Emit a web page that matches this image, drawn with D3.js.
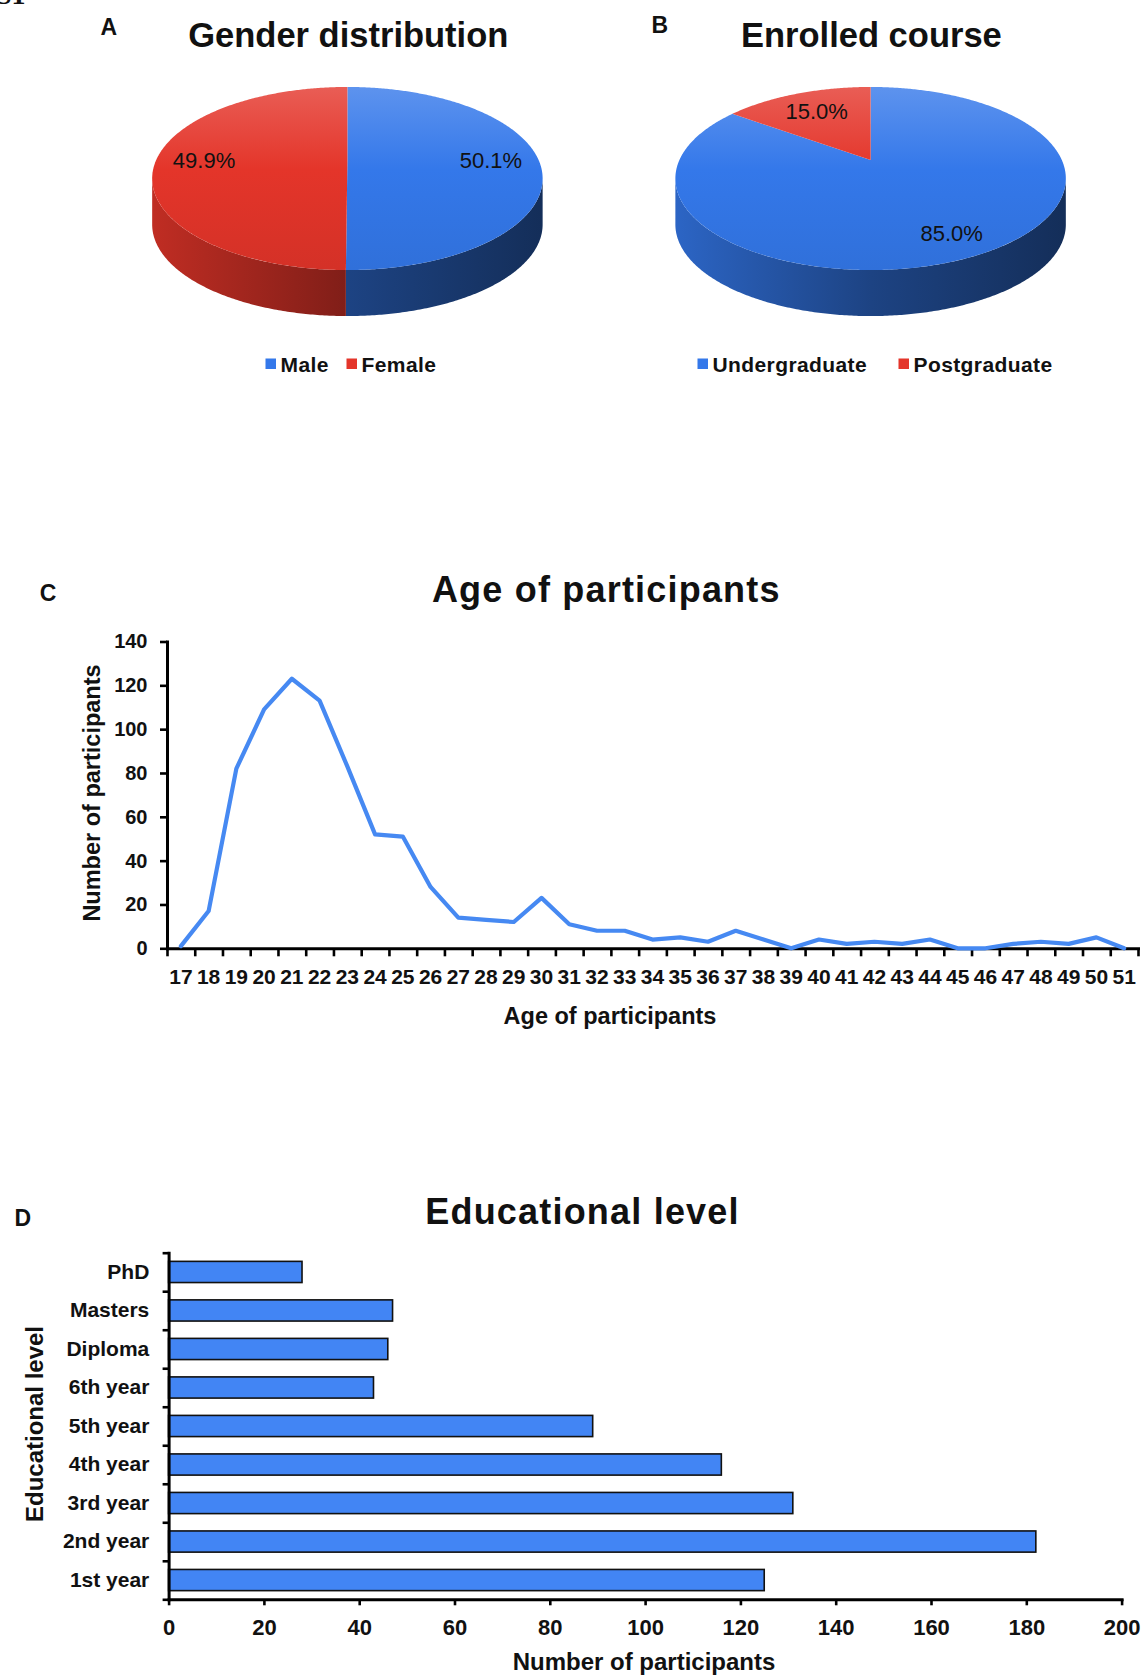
<!DOCTYPE html>
<html>
<head>
<meta charset="utf-8">
<script src="https://cdn.jsdelivr.net/npm/d3@7"></script>
<style>
  html, body { margin: 0; padding: 0; background: #ffffff; }
  svg { display: block; }
  text { font-family: "Liberation Sans", Arial, Helvetica, sans-serif; fill: #111111; }
</style>
</head>
<body>
<svg id="fig" width="1142" height="1676"></svg>
<script>
// ---- data ----
const genderLabels = ["Male", "Female"];
const genderShares = [50.1, 49.9];

const courseLabels = ["Undergraduate", "Postgraduate"];
const courseShares = [85.0, 15.0];

const ageCategories = [17, 18, 19, 20, 21, 22, 23, 24, 25, 26, 27, 28, 29, 30, 31, 32, 33, 34,
                       35, 36, 37, 38, 39, 40, 41, 42, 43, 44, 45, 46, 47, 48, 49, 50, 51];
const ageCounts = [1, 17, 82, 109, 123, 113, 83, 52, 51, 28, 14, 13, 12, 23, 11, 8, 8, 4,
                   5, 3, 8, 4, 0, 4, 2, 3, 2, 4, 0, 0, 2, 3, 2, 5, 0];
const ageTicks = [0, 20, 40, 60, 80, 100, 120, 140];

const eduLevels = ["1st year", "2nd year", "3rd year", "4th year", "5th year", "6th year",
                   "Diploma", "Masters", "PhD"];
const eduCounts = [125, 182, 131, 116, 89, 43, 46, 47, 28];
const eduTicks = [0, 20, 40, 60, 80, 100, 120, 140, 160, 180, 200];

const sliceColors = ["#3478ea", "#e4352a"];
const lineColor = "#4689f2";
const barColor = "#4285f4";

// ---- helpers ----
const svg = d3.select("#fig");
const defs = svg.append("defs");

function shade(c, k) {
  const r = d3.rgb(c);
  return d3.rgb(r.r * k, r.g * k, r.b * k).formatHex();
}
function tint(c, k) {
  return d3.interpolateRgb(c, "#ffffff")(k);
}

// 3-D pie seen in perspective: circle point (sin t, cos t) projected with foreshortening p
function drawPie3D(id, opts) {
  const { cx, y0, a, b, p, depth, values, colors, labelR } = opts;
  const g = svg.append("g");
  const arcs = d3.pie().sort(null).value(d => d)(values);
  const proj = (t, r, dy) => {
    const X = r * Math.sin(t), Zc = r * Math.cos(t);
    const w = 1 + p * Zc;
    return [cx + a * X / w, y0 - b * Zc / w + dy];
  };
  const sample = (t0, t1, dy) => {
    const n = Math.max(2, Math.ceil((t1 - t0) / 0.01));
    return d3.range(n + 1).map(i => proj(t0 + (t1 - t0) * i / n, 1, dy));
  };
  const line = d3.line();
  const tL = Math.acos(-p), tR = 2 * Math.PI - Math.acos(-p);
  const yTop = y0 - b / (1 + p), yBot = y0 + b / (1 - p);
  const wid = a / Math.sqrt(1 - p * p);

  colors.forEach((c, i) => {
    const sg = defs.append("linearGradient").attr("id", `${id}-side-${i}`)
      .attr("gradientUnits", "userSpaceOnUse")
      .attr("x1", cx - wid).attr("x2", cx + wid).attr("y1", 0).attr("y2", 0);
    sg.append("stop").attr("offset", 0).attr("stop-color", shade(c, 0.84));
    sg.append("stop").attr("offset", 0.5).attr("stop-color", shade(c, 0.56));
    sg.append("stop").attr("offset", 1).attr("stop-color", shade(c, 0.38));
    const tg = defs.append("linearGradient").attr("id", `${id}-top-${i}`)
      .attr("gradientUnits", "userSpaceOnUse")
      .attr("x1", 0).attr("x2", 0).attr("y1", yTop).attr("y2", yBot);
    tg.append("stop").attr("offset", 0).attr("stop-color", tint(c, 0.2));
    tg.append("stop").attr("offset", 0.45).attr("stop-color", c);
    tg.append("stop").attr("offset", 1).attr("stop-color", shade(c, 0.93));
  });

  // visible rim walls
  arcs.forEach((d, i) => {
    const s = Math.max(d.startAngle, tL), e = Math.min(d.endAngle, tR);
    if (e > s) {
      const top = sample(s, e, 0), bot = sample(s, e, depth).reverse();
      g.append("path").attr("d", line(top.concat(bot)) + "Z")
        .attr("fill", `url(#${id}-side-${i})`);
    }
  });
  // top faces
  arcs.forEach((d, i) => {
    const pts = [proj(0, 0, 0)].concat(sample(d.startAngle, d.endAngle, 0));
    g.append("path").attr("d", line(pts) + "Z")
      .attr("fill", `url(#${id}-top-${i})`);
  });
  // value labels
  arcs.forEach((d, i) => {
    const mid = (d.startAngle + d.endAngle) / 2;
    const [lx, ly] = proj(mid, labelR[i], 0);
    g.append("text").attr("x", lx).attr("y", ly).attr("dy", "0.36em")
      .attr("text-anchor", "middle").style("font-size", "22px")
      .text(d3.format(".1f")(d.data) + "%");
  });
}

function drawLegend(labels, colors, markerX, cy) {
  const g = svg.append("g");
  labels.forEach((lab, i) => {
    g.append("rect").attr("x", markerX[i]).attr("y", cy - 5.5).attr("width", 10.5).attr("height", 10.5)
      .attr("fill", colors[i]);
    g.append("text").attr("x", markerX[i] + 15).attr("y", cy + 8)
      .style("font-size", "21px").style("font-weight", "bold").style("letter-spacing", "0.4px")
      .text(lab);
  });
}

function panelLetter(t, x, y) {
  svg.append("text").attr("x", x).attr("y", y).attr("text-anchor", "middle")
    .style("font-size", "23px").style("font-weight", "bold").text(t);
}
function title(t, x, y, size, spacing) {
  svg.append("text").attr("x", x).attr("y", y).attr("text-anchor", "middle")
    .style("font-size", size + "px").style("font-weight", "bold")
    .style("letter-spacing", spacing + "px").text(t);
}

// figure number, partly above the top edge of the page
svg.append("text").attr("x", -4).attr("y", 4)
  .style("font-family", "'Liberation Serif', serif").style("font-size", "28px")
  .style("font-weight", "bold").text("S1");

// ---- A: gender ----
panelLetter("A", 108.7, 35);
title("Gender distribution", 348.3, 46.7, 34.5, 0);
drawPie3D("pieA", {
  cx: 347.4, y0: 160, a: 191.2, b: 87.8, p: 0.2022, depth: 46,
  values: genderShares, colors: sliceColors, labelR: [0.75, 0.75]
});
drawLegend(genderLabels, sliceColors, [265.5, 346.5], 364);

// ---- B: enrolled course ----
panelLetter("B", 659.7, 33.3);
title("Enrolled course", 871.4, 46.7, 34.5, 0);
drawPie3D("pieB", {
  cx: 870.6, y0: 160, a: 191.2, b: 87.8, p: 0.2022, depth: 46,
  values: courseShares, colors: sliceColors, labelR: [0.8, 0.7]
});
drawLegend(courseLabels, sliceColors, [697.5, 898.5], 364);

// ---- C: age line chart ----
panelLetter("C", 48, 601);
title("Age of participants", 606.3, 601.7, 36, 1.2);

const xAge = d3.scaleBand().domain(ageCategories).range([167, 1138]).padding(0);
const yAge = d3.scaleLinear().domain([0, 140]).range([948.3, 641.5]);
const ageEdges = d3.scaleLinear().domain([0, ageCategories.length]).range(xAge.range());

const gC = svg.append("g");
const yAxisC = gC.append("g").attr("transform", `translate(${xAge.range()[0]},0)`)
  .call(d3.axisLeft(yAge).tickValues(ageTicks).tickSize(7).tickSizeOuter(0).tickPadding(12.5));
const xEdgesC = gC.append("g").attr("transform", `translate(0,${yAge(0)})`)
  .call(d3.axisBottom(ageEdges).ticks(ageCategories.length).tickSize(8).tickSizeOuter(0).tickFormat(""));
const xLabelsC = gC.append("g").attr("transform", `translate(0,${yAge(0)})`)
  .call(d3.axisBottom(xAge).tickSize(0).tickPadding(20.3));
xLabelsC.select(".domain").remove();

[yAxisC, xEdgesC].forEach(ax => {
  ax.select(".domain").attr("stroke", "#000").attr("stroke-width", 3).attr("stroke-linecap", "square");
  ax.selectAll(".tick line").attr("stroke", "#000").attr("stroke-width", 2.6);
});
yAxisC.selectAll("text").style("font-size", "20px").style("font-weight", "bold")
  .style("font-family", "'Liberation Sans', Arial, sans-serif").attr("fill", "#111");
xLabelsC.selectAll("text").style("font-size", "21px").style("font-weight", "bold")
  .style("font-family", "'Liberation Sans', Arial, sans-serif").attr("fill", "#111");

gC.append("path")
  .datum(ageCategories.map((a, i) => ({ age: a, n: ageCounts[i] })))
  .attr("fill", "none").attr("stroke", lineColor).attr("stroke-width", 4.2)
  .attr("stroke-linejoin", "round").attr("stroke-linecap", "round")
  .attr("d", d3.line().x(d => xAge(d.age) + xAge.bandwidth() / 2).y(d => yAge(d.n)));

svg.append("text").attr("transform", "translate(100,793) rotate(-90)").attr("text-anchor", "middle")
  .style("font-size", "23.5px").style("font-weight", "bold").text("Number of participants");
svg.append("text").attr("x", 610).attr("y", 1023.5).attr("text-anchor", "middle")
  .style("font-size", "23.5px").style("font-weight", "bold").text("Age of participants");

// ---- D: educational level bar chart ----
panelLetter("D", 22.8, 1226);
title("Educational level", 582.5, 1224.3, 36, 1.2);

const xEdu = d3.scaleLinear().domain([0, 200]).range([168.6, 1121.6]);
const yEdu = d3.scaleBand().domain(eduLevels).range([1599.3, 1252.7])
  .paddingInner(0.45).paddingOuter(0.225);
const eduEdges = d3.scaleLinear().domain([0, eduLevels.length]).range(yEdu.range());

const gD = svg.append("g");
gD.selectAll("rect.bar").data(eduLevels.map((l, i) => ({ level: l, n: eduCounts[i] })))
  .join("rect").attr("class", "bar")
  .attr("x", xEdu(0)).attr("y", d => yEdu(d.level))
  .attr("width", d => xEdu(d.n) - xEdu(0)).attr("height", yEdu.bandwidth())
  .attr("fill", barColor).attr("stroke", "#111").attr("stroke-width", 1.6);

const yEdgesD = gD.append("g").attr("transform", `translate(${xEdu(0)},0)`)
  .call(d3.axisLeft(eduEdges).ticks(eduLevels.length).tickSize(6).tickSizeOuter(0).tickFormat(""));
const yLabelsD = gD.append("g").attr("transform", `translate(${xEdu(0)},0)`)
  .call(d3.axisLeft(yEdu).tickSize(0).tickPadding(19.3));
yLabelsD.select(".domain").remove();
const xAxisD = gD.append("g").attr("transform", `translate(0,${yEdu.range()[0]})`)
  .call(d3.axisBottom(xEdu).tickValues(eduTicks).tickSize(6).tickSizeOuter(0).tickPadding(14));

[yEdgesD, xAxisD].forEach(ax => {
  ax.select(".domain").attr("stroke", "#000").attr("stroke-width", 3).attr("stroke-linecap", "square");
  ax.selectAll(".tick line").attr("stroke", "#000").attr("stroke-width", 2.6);
});
yLabelsD.selectAll("text").style("font-size", "21px").style("font-weight", "bold")
  .style("font-family", "'Liberation Sans', Arial, sans-serif").attr("fill", "#111");
xAxisD.selectAll("text").style("font-size", "22px").style("font-weight", "bold")
  .style("font-family", "'Liberation Sans', Arial, sans-serif").attr("fill", "#111");

svg.append("text").attr("transform", "translate(43,1424) rotate(-90)").attr("text-anchor", "middle")
  .style("font-size", "24px").style("font-weight", "bold").text("Educational level");
svg.append("text").attr("x", 644).attr("y", 1670).attr("text-anchor", "middle")
  .style("font-size", "24px").style("font-weight", "bold").text("Number of participants");
</script>
</body>
</html>
